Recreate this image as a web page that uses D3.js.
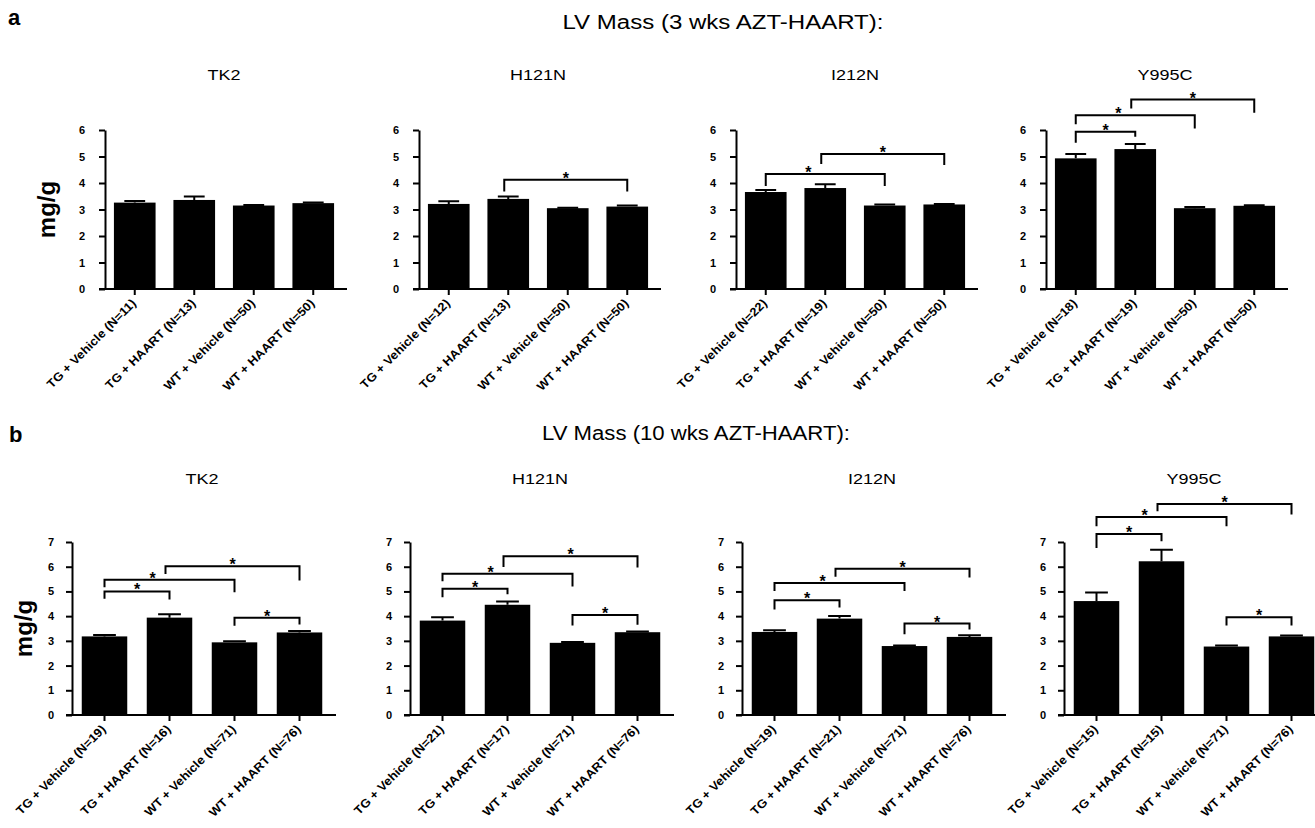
<!DOCTYPE html>
<html>
<head>
<meta charset="utf-8">
<script src="https://cdn.jsdelivr.net/npm/d3@7"></script>
<style>
  body { margin: 0; background: #fff; }
  svg { display: block; font-family: "Liberation Sans", Arial, sans-serif; }
</style>
</head>
<body>
<svg></svg>
<script>
var viewWidth = 1315;
var viewHeight = 828;

var genotypes = ["TK2", "H121N", "I212N", "Y995C"];
var treatments = ["TG + Vehicle", "TG + HAART", "WT + Vehicle", "WT + HAART"];

// panel a : 3 weeks
var nA = [[11, 13, 50, 50], [12, 13, 50, 50], [22, 19, 50, 50], [18, 19, 50, 50]];
var meanA = [[3.26, 3.36, 3.15, 3.24], [3.21, 3.40, 3.05, 3.11], [3.66, 3.81, 3.15, 3.19], [4.93, 5.28, 3.05, 3.14]];
var semA = [[0.06, 0.13, 0.02, 0.02], [0.10, 0.09, 0.02, 0.04], [0.08, 0.14, 0.04, 0.02], [0.16, 0.19, 0.04, 0.02]];
// [from, to, bracket level, left leg end, right leg end]
var bracketsA = [
  [],
  [[1, 3, 4.12, 3.68, 3.68]],
  [[0, 2, 4.34, 3.89, 3.89], [1, 3, 5.09, 4.72, 4.68]],
  [[0, 1, 5.93, 5.52, 5.75], [0, 2, 6.56, 6.22, 6.06], [1, 3, 7.15, 6.81, 6.65]]
];
var ticksA = [0, 1, 2, 3, 4, 5, 6];

// panel b : 10 weeks
var nB = [[19, 16, 71, 76], [21, 17, 71, 76], [19, 21, 71, 76], [15, 15, 71, 76]];
var meanB = [[3.18, 3.94, 2.94, 3.34], [3.82, 4.46, 2.92, 3.35], [3.36, 3.90, 2.79, 3.16], [4.61, 6.22, 2.77, 3.18]];
var semB = [[0.06, 0.14, 0.04, 0.06], [0.14, 0.13, 0.03, 0.03], [0.07, 0.11, 0.02, 0.07], [0.35, 0.47, 0.04, 0.04]];
var bracketsB = [
  [[0, 1, 5.00, 4.70, 4.67], [0, 2, 5.47, 5.17, 4.97], [1, 3, 6.02, 5.71, 5.44], [2, 3, 3.93, 3.61, 3.66]],
  [[0, 1, 5.11, 4.76, 4.89], [0, 2, 5.72, 5.41, 5.20], [1, 3, 6.42, 5.99, 5.97], [2, 3, 4.05, 3.62, 3.65]],
  [[0, 1, 4.64, 4.27, 4.35], [0, 2, 5.34, 5.02, 5.02], [1, 3, 5.92, 5.59, 5.56], [2, 3, 3.70, 3.27, 3.46]],
  [[0, 1, 7.32, 6.76, 7.03], [0, 2, 8.01, 7.64, 7.64], [1, 3, 8.54, 8.24, 8.11], [2, 3, 3.96, 3.62, 3.62]]
];
var ticksB = [0, 1, 2, 3, 4, 5, 6, 7];

var svg = d3.select("svg")
    .attr("width", viewWidth)
    .attr("height", viewHeight);

function drawRow(row) {
    svg.append("text")
        .attr("x", row.letterX).attr("y", row.letterY)
        .style("font-size", "22px").style("font-weight", "bold")
        .text(row.letter);

    svg.append("text")
        .attr("x", row.titleX).attr("y", row.titleY)
        .attr("text-anchor", "middle")
        .attr("textLength", row.titleLen)
        .attr("lengthAdjust", "spacingAndGlyphs")
        .style("font-size", "20px")
        .text(row.title);

    svg.append("text")
        .attr("transform", "translate(" + row.ylabX + "," + (row.y0 + row.yTop) / 2 + ") rotate(-90)")
        .attr("text-anchor", "middle")
        .attr("dy", "0.35em")
        .style("font-size", "24px").style("font-weight", "bold")
        .text("mg/g");

    var y = d3.scaleLinear()
        .domain([0, row.ticks[row.ticks.length - 1]])
        .range([row.y0, row.yTop]);

    genotypes.forEach(function(g, p) {
        var ax = row.axisX[p];
        var x = d3.scaleBand()
            .domain(d3.range(4))
            .range([ax, ax + row.width])
            .paddingInner(0.3)
            .paddingOuter(0.15);
        var cx = function(i) { return x(i) + x.bandwidth() / 2; };

        var gp = svg.append("g");

        // genotype title, the original font is wider than Arial
        gp.append("text")
            .attr("transform", "translate(" + (ax + row.width / 2) + "," + row.subY + ") scale(1.2,1)")
            .attr("text-anchor", "middle")
            .style("font-size", "15px")
            .text(g);

        // bars
        gp.selectAll("rect.bar")
            .data(row.means[p])
            .enter().append("rect")
            .attr("class", "bar")
            .attr("x", function(d, i) { return x(i); })
            .attr("y", function(d) { return y(d); })
            .attr("width", x.bandwidth())
            .attr("height", function(d) { return y(0) - y(d); })
            .attr("fill", "#000");

        // error bars (upper only)
        var capW = x.bandwidth() * 0.5;
        row.means[p].forEach(function(m, i) {
            var top = y(m + row.sems[p][i]);
            gp.append("path")
                .attr("d", "M" + cx(i) + "," + y(m) + "V" + top +
                    "M" + (cx(i) - capW / 2) + "," + top + "H" + (cx(i) + capW / 2))
                .attr("stroke", "#000").attr("stroke-width", 2).attr("fill", "none");
        });

        // y axis
        var yAxis = gp.append("g")
            .attr("transform", "translate(" + ax + ",0)")
            .call(d3.axisLeft(y).tickValues(row.ticks).tickFormat(d3.format("d"))
                .tickSize(6).tickSizeOuter(0).tickPadding(row.tickPad));
        yAxis.select(".domain").attr("stroke-width", 2);
        yAxis.selectAll(".tick line").attr("stroke-width", 2);
        yAxis.selectAll("text")
            .style("font-size", "11px").style("font-weight", "bold")
            .style("font-family", "Liberation Sans, Arial, sans-serif");

        // x axis
        var labels = row.ns[p].map(function(n, i) { return treatments[i] + " (N=" + n + ")"; });
        var xAxis = gp.append("g")
            .attr("transform", "translate(0," + row.y0 + ")")
            .call(d3.axisBottom(x).tickSize(6).tickSizeOuter(0).tickFormat(function(i) { return labels[i]; }));
        xAxis.select(".domain").remove();
        xAxis.append("line")
            .attr("x1", ax - 6).attr("x2", ax + row.width + 4)
            .attr("stroke", "#000").attr("stroke-width", 2);
        xAxis.selectAll(".tick line").attr("stroke-width", 2);
        xAxis.selectAll(".tick text")
            .attr("x", null).attr("y", null).attr("dy", null)
            .attr("text-anchor", "end")
            .attr("transform", "translate(2,15) rotate(-45) scale(1.08,1)")
            .style("font-size", "12px").style("font-weight", "bold")
            .style("font-family", "Liberation Sans, Arial, sans-serif");

        // significance brackets
        var br = row.brackets[p];
        br.forEach(function(b) {
            var xl = cx(b[0]) - (b[0] === 1 ? 4 : 0);
            var xr = cx(b[1]);
            gp.append("path")
                .attr("d", "M" + xl + "," + y(b[3]) + "V" + y(b[2]) + "H" + xr + "V" + y(b[4]))
                .attr("stroke", "#000").attr("stroke-width", 2).attr("fill", "none");
            var sx = (xl + xr) / 2;
            br.forEach(function(o) {
                var ox = cx(o[0]) - (o[0] === 1 ? 4 : 0);
                if (o !== b && o[2] > b[2] && Math.abs(ox - sx) < 15) sx = ox - 13;
            });
            gp.append("text")
                .attr("x", sx).attr("y", y(b[2]) + 4)
                .attr("text-anchor", "middle")
                .style("font-size", "16px").style("font-weight", "bold")
                .text("*");
        });
    });
}

drawRow({
    letter: "a", letterX: 8, letterY: 25,
    title: "LV Mass (3 wks AZT-HAART):", titleX: 723, titleY: 29, titleLen: 321,
    subY: 80, ylabX: 47,
    axisX: [105, 419, 736, 1046], width: 238,
    y0: 289, yTop: 130, ticks: ticksA, tickPad: 14,
    means: meanA, sems: semA, ns: nA, brackets: bracketsA
});

drawRow({
    letter: "b", letterX: 9, letterY: 442,
    title: "LV Mass (10 wks AZT-HAART):", titleX: 696, titleY: 440, titleLen: 308,
    subY: 484, ylabX: 24,
    axisX: [72, 410, 742, 1064], width: 260,
    y0: 715, yTop: 542, ticks: ticksB, tickPad: 12,
    means: meanB, sems: semB, ns: nB, brackets: bracketsB
});
</script>
</body>
</html>
